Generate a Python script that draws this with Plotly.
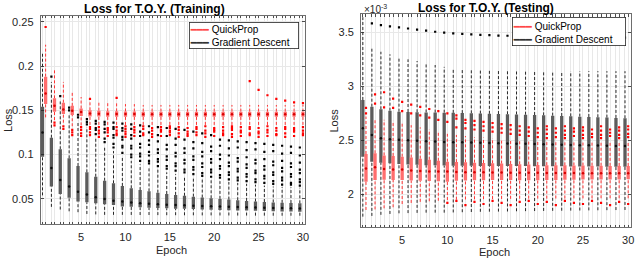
import plotly.graph_objects as go

W, H = 640, 259

epochs = list(range(1, 31))

# ---------------- Training data (Loss) ----------------
train_qp_q1 = [0.1570, 0.1484, 0.1458, 0.1447, 0.1436, 0.1430, 0.1429, 0.1428, 0.1428, 0.1428,
               0.1428, 0.1428, 0.1428, 0.1428, 0.1428, 0.1428, 0.1428, 0.1428, 0.1428, 0.1428,
               0.1428, 0.1428, 0.1428, 0.1428, 0.1428, 0.1428, 0.1428, 0.1428, 0.1428, 0.1428]
train_qp_med = [0.1690, 0.1550, 0.1510, 0.1495, 0.1480, 0.1465, 0.1460, 0.1458, 0.1458, 0.1457,
                0.1457, 0.1456, 0.1456, 0.1456, 0.1456, 0.1455, 0.1455, 0.1455, 0.1455, 0.1455,
                0.1455, 0.1455, 0.1455, 0.1455, 0.1455, 0.1455, 0.1455, 0.1455, 0.1455, 0.1455]
train_qp_q3 = [0.1880, 0.1635, 0.1586, 0.1550, 0.1520, 0.1500, 0.1495, 0.1490, 0.1488, 0.1487,
               0.1486, 0.1485, 0.1485, 0.1485, 0.1485, 0.1485, 0.1485, 0.1485, 0.1485, 0.1485,
               0.1485, 0.1485, 0.1485, 0.1485, 0.1485, 0.1485, 0.1485, 0.1485, 0.1485, 0.1485]
train_qp_lo = [0.1420, 0.1390, 0.1360, 0.1320, 0.1330, 0.1335, 0.1335, 0.1335, 0.1335, 0.1335,
               0.1335, 0.1335, 0.1335, 0.1335, 0.1335, 0.1335, 0.1335, 0.1335, 0.1335, 0.1335,
               0.1335, 0.1335, 0.1335, 0.1335, 0.1335, 0.1335, 0.1335, 0.1335, 0.1335, 0.1335]
train_qp_hi = [0.2240, 0.1970, 0.1820, 0.1710, 0.1650, 0.1600, 0.1590, 0.1580, 0.1580, 0.1570,
               0.1570, 0.1560, 0.1560, 0.1560, 0.1560, 0.1560, 0.1560, 0.1560, 0.1560, 0.1560,
               0.1560, 0.1560, 0.1560, 0.1560, 0.1560, 0.1560, 0.1560, 0.1560, 0.1560, 0.1560]
train_qp_out = [
    [0.244], [0.133, 0.136], [0.129, 0.132], [0.122, 0.125, 0.128], [0.121, 0.124, 0.128, 0.131],
    [0.122, 0.125, 0.129, 0.131, 0.163], [0.120, 0.124, 0.127, 0.131], [0.121, 0.125, 0.128, 0.130],
    [0.122, 0.124, 0.127, 0.131, 0.164], [0.120, 0.123, 0.126, 0.129, 0.132],
    [0.121, 0.125, 0.128, 0.131], [0.122, 0.124, 0.129, 0.132], [0.120, 0.123, 0.127, 0.130],
    [0.121, 0.126, 0.128, 0.131], [0.122, 0.125, 0.127, 0.130, 0.132], [0.120, 0.124, 0.128, 0.131],
    [0.121, 0.123, 0.126, 0.130], [0.122, 0.125, 0.129, 0.131], [0.120, 0.124, 0.127, 0.132],
    [0.121, 0.126, 0.128, 0.130], [0.122, 0.124, 0.127, 0.131], [0.120, 0.123, 0.128, 0.130, 0.132],
    [0.121, 0.125, 0.127, 0.131], [0.122, 0.124, 0.129, 0.131, 0.183],
    [0.120, 0.124, 0.126, 0.130, 0.173], [0.121, 0.125, 0.128, 0.132, 0.167],
    [0.122, 0.123, 0.127, 0.130, 0.163], [0.120, 0.124, 0.129, 0.131, 0.161],
    [0.121, 0.126, 0.128, 0.130, 0.159], [0.122, 0.124, 0.127, 0.131, 0.158],
]

train_gd_q1 = [0.0977, 0.0640, 0.0555, 0.0513, 0.0470, 0.0462, 0.0450, 0.0440, 0.0430, 0.0415,
               0.0410, 0.0405, 0.0400, 0.0397, 0.0394, 0.0390, 0.0388, 0.0385, 0.0380, 0.0377,
               0.0375, 0.0372, 0.0370, 0.0368, 0.0365, 0.0363, 0.0360, 0.0358, 0.0357, 0.0356]
train_gd_med = [0.1250, 0.0850, 0.0714, 0.0640, 0.0580, 0.0550, 0.0520, 0.0500, 0.0480, 0.0470,
                0.0460, 0.0450, 0.0445, 0.0440, 0.0435, 0.0430, 0.0427, 0.0424, 0.0420, 0.0417,
                0.0414, 0.0411, 0.0408, 0.0405, 0.0402, 0.0400, 0.0398, 0.0396, 0.0394, 0.0392]
train_gd_q3 = [0.1540, 0.1190, 0.1060, 0.0958, 0.0871, 0.0800, 0.0750, 0.0705, 0.0676, 0.0646,
               0.0620, 0.0600, 0.0585, 0.0570, 0.0555, 0.0545, 0.0535, 0.0525, 0.0515, 0.0507,
               0.0500, 0.0492, 0.0485, 0.0477, 0.0470, 0.0465, 0.0460, 0.0456, 0.0453, 0.0450]
train_gd_lo = [0.0540, 0.0410, 0.0380, 0.0360, 0.0350, 0.0330, 0.0325, 0.0320, 0.0320, 0.0320,
               0.0319, 0.0318, 0.0318, 0.0317, 0.0316, 0.0316, 0.0315, 0.0315, 0.0314, 0.0314,
               0.0313, 0.0313, 0.0312, 0.0312, 0.0311, 0.0311, 0.0310, 0.0310, 0.0310, 0.0310]
train_gd_hi = [0.2150, 0.1820, 0.1600, 0.1450, 0.1380, 0.1310, 0.1200, 0.1100, 0.1040, 0.0980,
               0.0930, 0.0890, 0.0860, 0.0830, 0.0800, 0.0780, 0.0760, 0.0740, 0.0720, 0.0710,
               0.0700, 0.0690, 0.0680, 0.0670, 0.0660, 0.0650, 0.0640, 0.0635, 0.0630, 0.0625]
train_gd_out = [
    [], [0.188], [0.166], [0.150, 0.153], [0.142, 0.145],
    [0.134, 0.137, 0.140],
    [0.123, 0.128, 0.130, 0.135, 0.138],
    [0.114, 0.118, 0.125, 0.129, 0.134, 0.137],
    [0.108, 0.112, 0.119, 0.122, 0.129, 0.131, 0.136],
    [0.102, 0.108, 0.110, 0.117, 0.120, 0.127, 0.130, 0.135],
    [0.097, 0.100, 0.107, 0.110, 0.118, 0.122, 0.129, 0.134],
    [0.093, 0.098, 0.101, 0.108, 0.112, 0.121, 0.126, 0.133],
    [0.090, 0.093, 0.099, 0.103, 0.111, 0.116, 0.125, 0.132],
    [0.087, 0.092, 0.095, 0.102, 0.106, 0.115, 0.122, 0.131],
    [0.084, 0.087, 0.094, 0.098, 0.106, 0.111, 0.121, 0.130],
    [0.082, 0.087, 0.090, 0.098, 0.102, 0.111, 0.118, 0.129],
    [0.080, 0.083, 0.090, 0.094, 0.102, 0.107, 0.117, 0.128],
    [0.078, 0.083, 0.086, 0.094, 0.098, 0.107, 0.114, 0.126],
    [0.076, 0.079, 0.086, 0.090, 0.098, 0.103, 0.113, 0.124],
    [0.075, 0.080, 0.083, 0.091, 0.095, 0.104, 0.109, 0.122],
    [0.074, 0.077, 0.084, 0.087, 0.095, 0.100, 0.110, 0.117],
    [0.072, 0.077, 0.080, 0.087, 0.091, 0.099, 0.107, 0.116],
    [0.071, 0.074, 0.081, 0.084, 0.092, 0.096, 0.108, 0.115],
    [0.070, 0.075, 0.078, 0.085, 0.089, 0.097, 0.105, 0.114],
    [0.069, 0.072, 0.079, 0.082, 0.090, 0.094, 0.106, 0.113],
    [0.068, 0.073, 0.076, 0.083, 0.087, 0.095, 0.103, 0.112],
    [0.067, 0.070, 0.077, 0.080, 0.088, 0.092, 0.104, 0.111],
    [0.066, 0.071, 0.074, 0.081, 0.085, 0.093, 0.101, 0.110],
    [0.066, 0.068, 0.075, 0.078, 0.086, 0.090, 0.102, 0.109],
    [0.065, 0.069, 0.072, 0.079, 0.083, 0.091, 0.099, 0.108],
]

# ---------------- Testing data (Loss, in units of 1e-3) ----------------
test_qp_q1 = [2.117, 2.132, 2.135, 2.133, 2.132, 2.128, 2.125, 2.122, 2.120, 2.117,
              2.125, 2.128, 2.130, 2.131, 2.132, 2.132, 2.132, 2.131, 2.131, 2.130,
              2.132, 2.133, 2.134, 2.135, 2.136, 2.137, 2.137, 2.138, 2.138, 2.139]
test_qp_med = [2.240, 2.250, 2.235, 2.230, 2.230, 2.220, 2.215, 2.210, 2.210, 2.210,
               2.206, 2.205, 2.204, 2.203, 2.202, 2.201, 2.200, 2.200, 2.199, 2.199,
               2.198, 2.198, 2.197, 2.197, 2.196, 2.196, 2.196, 2.195, 2.195, 2.195]
test_qp_q3 = [2.373, 2.380, 2.360, 2.355, 2.348, 2.340, 2.330, 2.320, 2.310, 2.302,
              2.298, 2.296, 2.293, 2.290, 2.287, 2.284, 2.281, 2.278, 2.275, 2.271,
              2.270, 2.269, 2.268, 2.267, 2.266, 2.265, 2.264, 2.263, 2.262, 2.262]
test_qp_lo = [1.855, 1.860, 1.870, 1.880, 1.910, 1.920, 1.930, 1.935, 1.940, 1.947,
              1.950, 1.952, 1.954, 1.955, 1.956, 1.957, 1.958, 1.959, 1.960, 1.960,
              1.960, 1.961, 1.961, 1.962, 1.962, 1.962, 1.963, 1.963, 1.963, 1.963]
test_qp_hi = [2.720, 2.700, 2.690, 2.680, 2.660, 2.640, 2.620, 2.600, 2.580, 2.560,
              2.550, 2.540, 2.530, 2.525, 2.520, 2.515, 2.510, 2.505, 2.500, 2.495,
              2.490, 2.490, 2.488, 2.486, 2.485, 2.484, 2.483, 2.482, 2.481, 2.480]
test_qp_out = [
    [2.75, 2.80], [2.84, 2.925], [2.805, 2.945], [2.80, 2.885], [2.77, 2.855],
    [2.75, 2.83], [2.73, 2.81], [2.71, 2.79], [2.69, 2.77], [2.67, 2.75, 1.92],
    [2.62, 2.70, 2.73, 1.94], [2.61, 2.66, 2.69, 1.90], [2.60, 2.64, 2.68, 1.93],
    [2.59, 2.63, 2.67, 1.91], [2.58, 2.62, 2.66, 1.94], [2.57, 2.61, 2.65, 1.92],
    [2.56, 2.60, 2.64, 1.90], [2.55, 2.59, 2.63, 1.93], [2.54, 2.58, 2.62, 1.94],
    [2.53, 2.57, 2.61, 1.91], [2.52, 2.56, 2.60, 2.63, 1.93], [2.53, 2.57, 2.61, 1.90],
    [2.52, 2.55, 2.59, 2.63, 1.94], [2.54, 2.58, 2.61, 1.92], [2.52, 2.55, 2.59, 2.62, 1.91],
    [2.53, 2.56, 2.60, 1.94], [2.52, 2.55, 2.59, 2.63, 1.92], [2.54, 2.57, 2.60, 1.90],
    [2.52, 2.55, 2.59, 2.62, 1.93], [2.53, 2.56, 2.60, 2.63, 1.91],
]

test_gd_q1 = [2.348, 2.302, 2.293, 2.287, 2.280, 2.276, 2.273, 2.270, 2.268, 2.266,
              2.265, 2.264, 2.264, 2.263, 2.263, 2.262, 2.262, 2.261, 2.261, 2.260,
              2.260, 2.259, 2.259, 2.258, 2.258, 2.257, 2.257, 2.256, 2.256, 2.256]
test_gd_med = [2.611, 2.549, 2.518, 2.510, 2.505, 2.500, 2.496, 2.492, 2.488, 2.485,
               2.483, 2.481, 2.479, 2.477, 2.475, 2.473, 2.471, 2.469, 2.467, 2.465,
               2.463, 2.461, 2.459, 2.457, 2.455, 2.453, 2.451, 2.449, 2.448, 2.447]
test_gd_q3 = [2.873, 2.811, 2.787, 2.774, 2.765, 2.762, 2.760, 2.758, 2.757, 2.756,
              2.754, 2.752, 2.750, 2.747, 2.745, 2.743, 2.741, 2.739, 2.737, 2.734,
              2.731, 2.728, 2.725, 2.722, 2.719, 2.716, 2.713, 2.710, 2.707, 2.704]
test_gd_lo = [1.793, 1.800, 1.810, 1.818, 1.824, 1.826, 1.828, 1.830, 1.830, 1.830,
              1.832, 1.834, 1.836, 1.838, 1.839, 1.840, 1.841, 1.843, 1.844, 1.845,
              1.846, 1.847, 1.848, 1.849, 1.850, 1.851, 1.852, 1.853, 1.854, 1.855]
test_gd_hi = [3.640, 3.352, 3.320, 3.296, 3.268, 3.250, 3.234, 3.220, 3.197, 3.180,
              3.170, 3.165, 3.160, 3.155, 3.150, 3.148, 3.146, 3.144, 3.142, 3.140,
              3.140, 3.140, 3.140, 3.140, 3.140, 3.140, 3.140, 3.140, 3.140, 3.140]
test_gd_out = [
    [], [3.583], [3.567], [3.555], [3.545], [3.535], [3.525], [3.515], [3.505], [3.497],
    [3.490], [3.485], [3.480], [3.476], [3.473], [3.470], [3.468], [3.466], [3.464], [3.462],
    [3.460], [3.459], [3.458], [3.457], [3.456], [3.455], [3.454], [3.453], [3.452], [3.451],
]

series_names = ["QuickProp", "Gradient Descent"]

# ---------------- styling constants ----------------
GD_OFFSET, QP_OFFSET = -0.3, 0.05
FONT = "Liberation Sans, Arial, Helvetica, sans-serif"
AX_COL = "rgb(38,38,38)"
GRID = "rgb(232,232,232)"
GD_BOX, GD_WHISK, GD_MED, GD_OUT = "rgb(92,92,92)", "rgb(40,40,40)", "rgb(15,15,15)", "rgb(0,0,0)"
QP_BOX, QP_WHISK, QP_MED, QP_OUT = "rgb(255,110,110)", "rgb(255,50,50)", "rgb(215,0,0)", "rgb(255,0,0)"
LEG_COLS = ["rgb(255,70,70)", "rgb(50,50,50)"]


def px(x):
    return x / W


def py(y):
    return 1 - y / H


fig = go.Figure()


def add_series(xref, yref, offset, q1, med, q3, lo, hi, outs, box_c, wh_c, med_c, out_c):
    xs = [e + offset for e in epochs]
    # whiskers (dashed)
    wx, wy = [], []
    for x, a, b, c, d in zip(xs, lo, q1, q3, hi):
        wx += [x, x, None, x, x, None]
        wy += [a, b, None, c, d, None]
    fig.add_trace(go.Scatter(x=wx, y=wy, mode="lines", xaxis=xref, yaxis=yref,
                             line=dict(color=wh_c, width=1, dash="3px,2px"),
                             showlegend=False, hoverinfo="skip"))
    # compact boxes (thick bar from q1 to q3)
    bx, by = [], []
    for x, b, c in zip(xs, q1, q3):
        bx += [x, x, None]
        by += [b, c, None]
    fig.add_trace(go.Scatter(x=bx, y=by, mode="lines", xaxis=xref, yaxis=yref,
                             line=dict(color=box_c, width=3.3),
                             showlegend=False, hoverinfo="skip"))
    # medians
    fig.add_trace(go.Scatter(x=xs, y=med, mode="markers", xaxis=xref, yaxis=yref,
                             marker=dict(color=med_c, size=2.5, symbol="circle"),
                             showlegend=False, hoverinfo="skip"))
    # outliers
    ox, oy = [], []
    for x, vals in zip(xs, outs):
        for v in vals:
            ox.append(x)
            oy.append(v)
    fig.add_trace(go.Scatter(x=ox, y=oy, mode="markers", xaxis=xref, yaxis=yref,
                             marker=dict(color=out_c, size=2.2, symbol="square"),
                             showlegend=False, hoverinfo="skip"))


add_series("x", "y", GD_OFFSET, train_gd_q1, train_gd_med, train_gd_q3, train_gd_lo, train_gd_hi,
           train_gd_out, GD_BOX, GD_WHISK, GD_MED, GD_OUT)
add_series("x", "y", QP_OFFSET, train_qp_q1, train_qp_med, train_qp_q3, train_qp_lo, train_qp_hi,
           train_qp_out, QP_BOX, QP_WHISK, QP_MED, QP_OUT)
add_series("x2", "y2", GD_OFFSET, test_gd_q1, test_gd_med, test_gd_q3, test_gd_lo, test_gd_hi,
           test_gd_out, GD_BOX, GD_WHISK, GD_MED, GD_OUT)
add_series("x2", "y2", QP_OFFSET, test_qp_q1, test_qp_med, test_qp_q3, test_qp_lo, test_qp_hi,
           test_qp_out, QP_BOX, QP_WHISK, QP_MED, QP_OUT)

# x ticks: one per box (grid), labels every 5 epochs
tick_pos, tick_txt = [], []
for e in epochs:
    tick_pos += [e + GD_OFFSET, e + QP_OFFSET]
    tick_txt += ["", str(e) if e % 5 == 0 else ""]

xaxis_common = dict(tickmode="array", tickvals=tick_pos, ticktext=tick_txt,
                    showgrid=True, gridcolor=GRID, gridwidth=1,
                    ticks="inside", ticklen=2.5, tickcolor=AX_COL, tickwidth=0.8,
                    showline=True, linecolor="rgb(110,110,110)", linewidth=1, mirror="ticks",
                    zeroline=False, tickfont=dict(family=FONT, size=11, color=AX_COL),
                    ticklabelstandoff=2)
yaxis_common = dict(showgrid=True, gridcolor=GRID, gridwidth=1,
                    ticks="inside", ticklen=3, tickcolor=AX_COL, tickwidth=0.8,
                    showline=True, linecolor="rgb(110,110,110)", linewidth=1, mirror="ticks",
                    zeroline=False, tickfont=dict(family=FONT, size=11, color=AX_COL),
                    ticklabelstandoff=4)

train_yticks = [0.05, 0.1, 0.15, 0.2, 0.25]
test_yticks = [2, 2.5, 3, 3.5]

fig.update_layout(
    width=W, height=H, margin=dict(l=0, r=0, t=0, b=0),
    paper_bgcolor="white", plot_bgcolor="white", showlegend=False, hovermode=False,
    xaxis=dict(domain=[px(41), px(307)], range=[0.5, 30.29], anchor="y", **xaxis_common),
    yaxis=dict(domain=[py(224.3), py(15.7)], range=[0.02133, 0.25677], anchor="x",
               tickvals=train_yticks, **yaxis_common),
    xaxis2=dict(domain=[px(363.3), px(635.3)], range=[0.5, 30.4], anchor="y2", **xaxis_common),
    yaxis2=dict(domain=[py(227.3), py(14)], range=[1.6944, 3.6694], anchor="x2",
                tickvals=test_yticks, **yaxis_common),
)

ann = []
# titles
ann.append(dict(text="<b>Loss for T.O.Y. (Training)</b>", x=px(155.5), y=py(8.5),
                font=dict(family=FONT, size=12, color="black")))
ann.append(dict(text="<b>Loss for T.O.Y. (Testing)</b>", x=px(488.7), y=py(7.5),
                font=dict(family=FONT, size=12, color="black")))
# axis labels
ann.append(dict(text="Epoch", x=px(173), y=py(249.5), font=dict(family=FONT, size=11, color=AX_COL)))
ann.append(dict(text="Epoch", x=px(498), y=py(251.5), font=dict(family=FONT, size=11, color=AX_COL)))
ann.append(dict(text="Loss", x=px(8), y=py(120), textangle=-90,
                font=dict(family=FONT, size=11, color=AX_COL)))
ann.append(dict(text="Loss", x=px(336), y=py(120.6), textangle=-90,
                font=dict(family=FONT, size=11, color=AX_COL)))
# exponent
ann.append(dict(text="×10<sup>-3</sup>", x=px(364), y=py(9), xanchor="left",
                font=dict(family=FONT, size=10, color=AX_COL)))

# legends: one boxed annotation per subplot (left x, top y, inner width, inner height)
legend_text = "<br>".join(
    f"<span style='color:{c};font-family:DejaVu Sans'>━━━</span> {n}"
    for n, c in zip(series_names, LEG_COLS)
)
for lx, ly, lw, lh in [(190, 22, 108, 25), (515, 17, 112, 27)]:
    ann.append(dict(text=legend_text, x=px(lx), y=py(ly), xanchor="left", yanchor="top",
                    align="left", valign="bottom", width=lw, height=lh, borderpad=0,
                    bordercolor=AX_COL, borderwidth=0.8, bgcolor="white",
                    font=dict(family=FONT, size=10, color="black")))

for a in ann:
    a.setdefault("xref", "paper")
    a.setdefault("yref", "paper")
    a.setdefault("showarrow", False)
    a.setdefault("xanchor", "center")
    a.setdefault("yanchor", "middle")

fig.update_layout(annotations=ann)

fig.write_html("out.html", config={"staticPlot": True, "displayModeBar": False},
               post_script="document.body.style.margin='0px';")
